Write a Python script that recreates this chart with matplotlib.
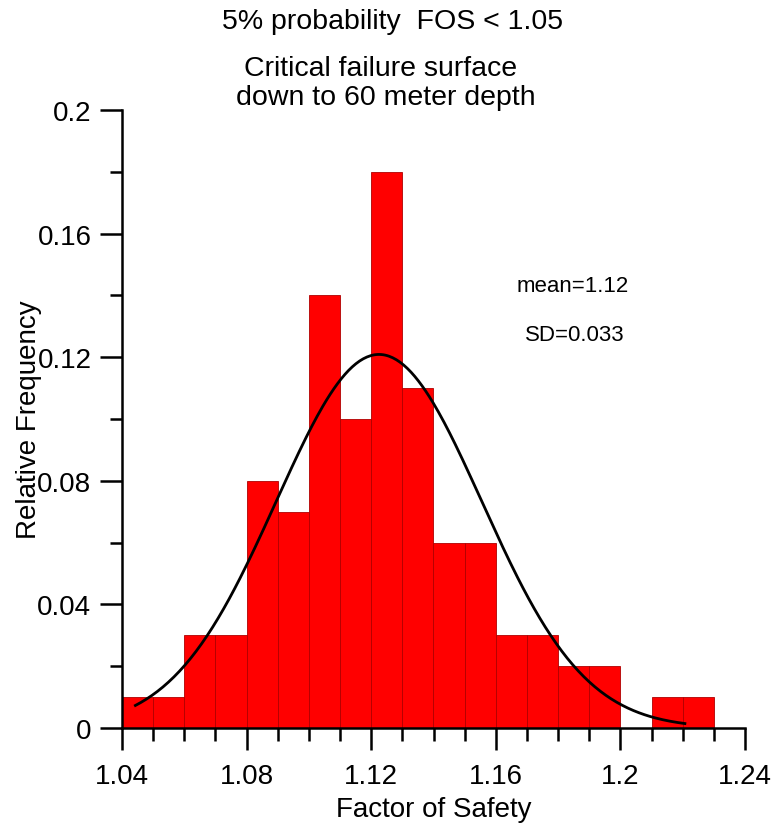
import numpy as np
import matplotlib.pyplot as plt
from matplotlib.ticker import MultipleLocator

# histogram bins (left edges) and relative frequencies
bin_lefts = [1.04, 1.05, 1.06, 1.07, 1.08, 1.09, 1.10, 1.11, 1.12, 1.13,
             1.14, 1.15, 1.16, 1.17, 1.18, 1.19, 1.20, 1.21, 1.22]
rel_freq = [0.01, 0.01, 0.03, 0.03, 0.08, 0.07, 0.14, 0.10, 0.18, 0.11,
            0.06, 0.06, 0.03, 0.03, 0.02, 0.02, 0.00, 0.01, 0.01]
bin_width = 0.01

# fitted normal curve
fit_mean = 1.1225
fit_sd = 0.033
curve_start = 1.0443
curve_end = 1.2207

plt.rcParams['font.family'] = ['Liberation Sans', 'DejaVu Sans']

fig = plt.figure(figsize=(7.76, 8.29), dpi=100)
ax = fig.add_axes([122/776, 1 - 729/829, (745 - 122)/776, (729 - 111)/829])

ax.bar(bin_lefts, rel_freq, width=bin_width, align="edge",
       color="#ff0000", edgecolor="#b00000", linewidth=0.6)

xs = np.linspace(curve_start, curve_end, 300)
ys = bin_width / (np.sqrt(2*np.pi)*fit_sd) * np.exp(-(xs - fit_mean)**2 / (2*fit_sd**2))
ax.plot(xs, ys, color="black", linewidth=2)

ax.set_xlim(1.04, 1.24)
ax.set_ylim(0, 0.2)
ax.xaxis.set_minor_locator(MultipleLocator(0.01))
ax.yaxis.set_minor_locator(MultipleLocator(0.02))
ax.set_xticks([1.04, 1.08, 1.12, 1.16, 1.2, 1.24])
ax.set_xticklabels(["1.04", "1.08", "1.12", "1.16", "1.2", "1.24"])
ax.set_yticks([0, 0.04, 0.08, 0.12, 0.16, 0.2])
ax.set_yticklabels(["0", "0.04", "0.08", "0.12", "0.16", "0.2"])

for s in ["top", "right"]:
    ax.spines[s].set_visible(False)
for s in ["left", "bottom"]:
    ax.spines[s].set_linewidth(1.8)
ax.tick_params(which="major", direction="out", length=16, width=1.8, labelsize=20)
ax.tick_params(axis="y", which="major", pad=6)
ax.tick_params(axis="x", which="major", pad=9)
ax.tick_params(which="minor", direction="out", length=9, width=1.8)

ax.set_xlabel("Factor of Safety", fontsize=20, labelpad=5)
ax.set_ylabel("Relative Frequency", fontsize=20, labelpad=-3.5)

fig.text(393/776, 1 - 22/829, "5% probability  FOS < 1.05", ha="center", va="center", fontsize=20.5)
fig.text(381/776, 1 - 69/829, "Critical failure surface", ha="center", va="center", fontsize=20.5)
fig.text(386/776, 1 - 98/829, "down to 60 meter depth", ha="center", va="center", fontsize=20.5)

fig.text(573/776, 1 - 287/829, "mean=1.12", ha="center", va="center", fontsize=16)
fig.text(575/776, 1 - 336/829, "SD=0.033", ha="center", va="center", fontsize=16)

fig.savefig("out.png", dpi=100)
